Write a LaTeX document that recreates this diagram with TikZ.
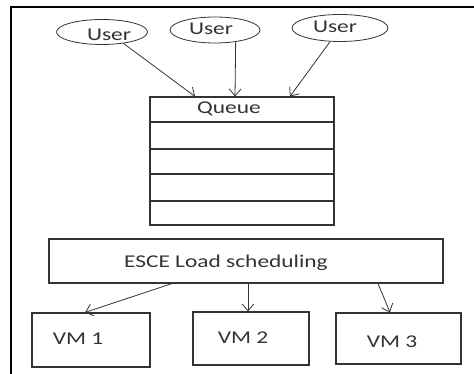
\documentclass[tikz,border=0pt]{standalone}
\usepackage{fontspec}
\setmainfont{Carlito}[FakeStretch=1.3]
\usetikzlibrary{shapes.geometric,arrows.meta}
\definecolor{ink}{HTML}{333333}
\tikzset{
  lbl/.style={font=\fontsize{18}{20}\selectfont, text=ink, inner sep=0pt},
  usr/.style={ellipse, draw=ink, line width=0.8pt, inner sep=0pt},
  box/.style={rectangle, draw=ink, line width=1.1pt, inner sep=0pt},
  arr/.style={draw=ink, line width=0.8pt, -{Straight Barb[length=7pt,width=12pt]}},
}
\begin{document}
\begin{tikzpicture}[x=1pt,y=-1pt]
\useasboundingbox (0,0) rectangle (474,374);
% frame
\draw[black, line width=2.6pt] (474,7) -- (11,7) -- (11,375);
% users
\node[usr, minimum width=91pt, minimum height=25pt] (u1) at (102,32) {};
\node[usr, minimum width=90pt, minimum height=26pt] (u2) at (215,30) {};
\node[usr, minimum width=96pt, minimum height=27pt] (u3) at (340,28) {};
\node[lbl] (t1) at (109,35) {User};
\node[lbl] (t2) at (211,29) {User};
\node[lbl] (t3) at (335,27) {User};
% queue
\node[box, minimum width=184pt, minimum height=128pt] (q) at (242,161) {};
\foreach \yy in {122,149,174,201} \draw[ink, line width=1.1pt] (q.west |- 0,\yy) -- (q.east |- 0,\yy);
\node[lbl] (qt) at (229,109) {Queue};
% scheduler
\node[box, minimum width=394pt, minimum height=44pt] (e) at (246,261) {};
\node[lbl] (et) at (226,263) {ESCE Load scheduling};
% VMs
\node[box, minimum width=118pt, minimum height=54pt] (v1) at (91,340) {};
\node[box, minimum width=116pt, minimum height=53pt] (v2) at (251,338.5) {};
\node[box, minimum width=125pt, minimum height=51pt] (v3) at (398.5,338.5) {};
\node[lbl] (vt1) at (78,339) {VM 1};
\node[lbl] (vt2) at (243,338) {VM 2};
\node[lbl] (vt3) at (392,342) {VM 3};
% arrows
\draw[arr] (u1.-28) -- ([xshift=-47pt]q.north);
\draw[arr] (u2.-30) -- ([xshift=-7pt]q.north);
\draw[arr] (u3) -- ([xshift=48pt]q.north);
\draw[arr] ([xshift=-74pt]e.south) -- ([xshift=-6pt]v1.north);
\draw[arr] ([xshift=2pt]e.south) -- ([xshift=-3pt]v2.north);
\draw[arr] ([xshift=132pt]e.south) -- ([xshift=-8.5pt]v3.north);
\end{tikzpicture}
\end{document}
